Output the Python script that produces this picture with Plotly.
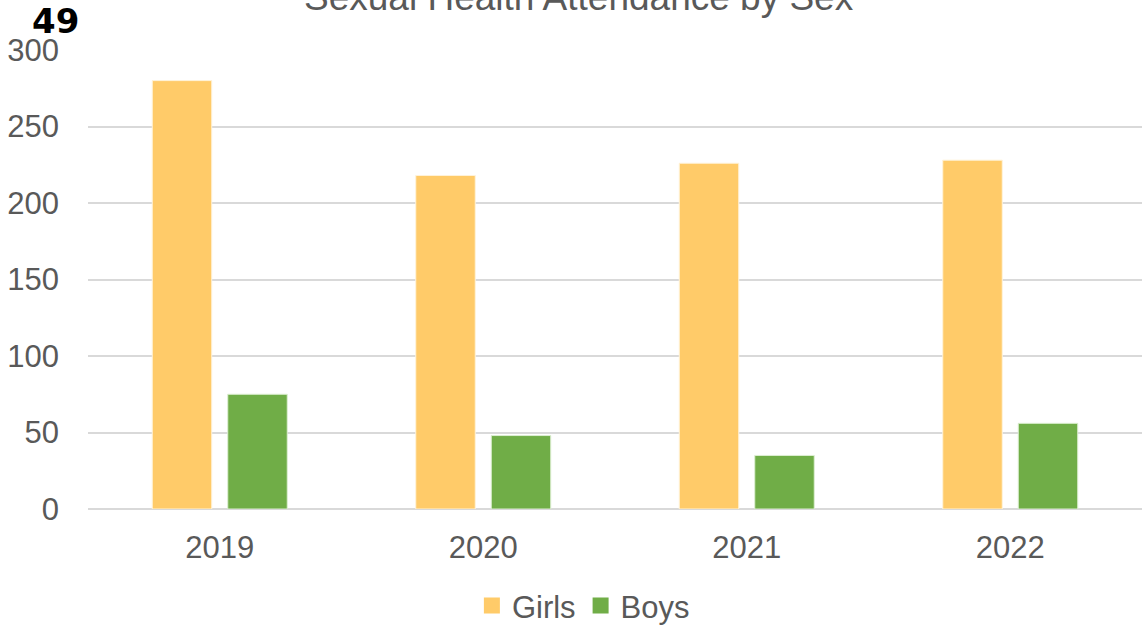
import plotly.graph_objects as go

years = ["2019", "2020", "2021", "2022"]
girls = [280, 218, 226, 228]
boys = [75, 48, 35, 56]
y_ticks = [0, 50, 100, 150, 200, 250, 300]
girls_color = "#FFCB69"
boys_color = "#70AD47"

fig = go.Figure()
fig.add_trace(go.Bar(name="Girls", x=years, y=girls, showlegend=False,
                     marker=dict(color=girls_color, line=dict(color="#FFF3DA", width=1))))
fig.add_trace(go.Bar(name="Boys", x=years, y=boys, showlegend=False,
                     marker=dict(color=boys_color, line=dict(color="#DDEFD2", width=1))))
# legend entries with larger square swatches
fig.add_trace(go.Scatter(name="Girls", x=[None], y=[None], mode="markers",
                         marker=dict(symbol="square", size=17, color=girls_color)))
fig.add_trace(go.Scatter(name="Boys", x=[None], y=[None], mode="markers",
                         marker=dict(symbol="square", size=17, color=boys_color)))

font_family = "Liberation Sans, Arial, sans-serif"
fig.update_layout(
    width=1146, height=629,
    margin=dict(l=88, r=4, t=50, b=120, autoexpand=False),
    paper_bgcolor="white", plot_bgcolor="white",
    barmode="group", bargap=0.427, bargroupgap=0.212,
    font=dict(family=font_family, color="#595959", size=31),
    showlegend=True,
    legend=dict(orientation="h", x=0.47, xanchor="center", y=-0.152, yanchor="top",
                font=dict(size=31, color="#595959"), itemwidth=30, traceorder="normal",
                itemsizing="trace"),
    xaxis=dict(showgrid=False, showline=False, ticks="", tickfont=dict(size=31, color="#595959"),
               ticklabelstandoff=17, automargin=False),
    yaxis=dict(range=[0, 300], tickvals=y_ticks, showgrid=True, gridcolor="#D9D9D9", gridwidth=2,
               zeroline=True, zerolinecolor="#D9D9D9", zerolinewidth=2, showline=False, ticks="",
               tickfont=dict(size=31, color="#595959"), ticklabelstandoff=28, automargin=False),
)
fig.add_annotation(text="Sexual Health Attendance by Sex", xref="paper", yref="paper",
                   x=0.466, y=1.066, xanchor="center", yanchor="bottom", showarrow=False,
                   font=dict(size=37, color="#595959", family=font_family))
fig.add_annotation(text="<b>49</b>", xref="paper", yref="paper",
                   x=-0.0304, y=1.063, xanchor="center", yanchor="middle", showarrow=False,
                   font=dict(size=34, color="#000000", family="DejaVu Sans, sans-serif"))

fig.write_html("out.html", config={"displayModeBar": False},
               post_script="document.body.style.margin='0';")
